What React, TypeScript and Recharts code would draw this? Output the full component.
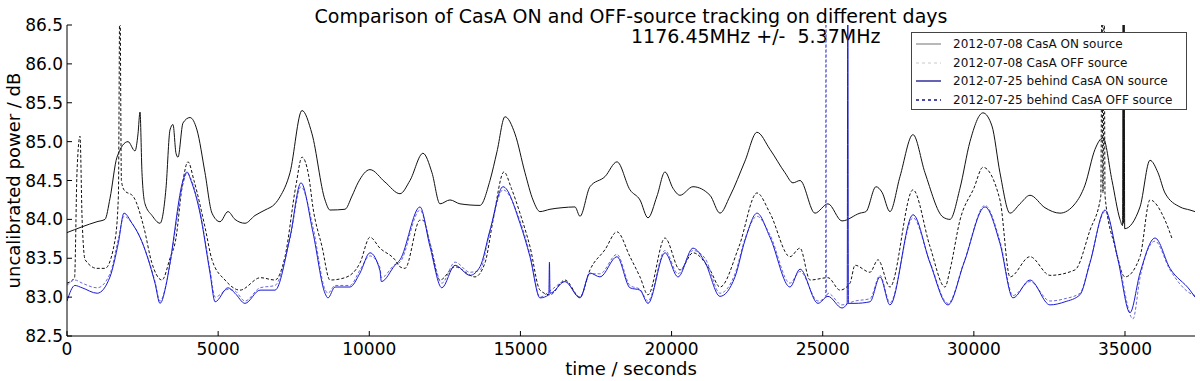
import { LineChart, Line, XAxis, YAxis, Legend } from 'recharts';

// [time in seconds, power in dB]
const onJul08: [number, number][] = [
  [0, 83.83], [992, 83.97], [1257, 84.0], [1422, 84.27], [1654, 84.8], [2018, 85.0], [2250, 84.88],
  [2349, 85.1], [2415, 85.38], [2481, 84.6], [2580, 84.2], [2812, 84.05], [3076, 83.95], [3275, 84.4],
  [3407, 85.15], [3507, 85.22], [3606, 84.85], [3672, 84.8], [3837, 85.24], [4069, 85.31], [4300, 85.15],
  [4565, 84.6], [4797, 84.08], [5061, 83.97], [5326, 84.1], [5557, 84.0], [5888, 83.95], [6219, 84.05],
  [6550, 84.12], [6880, 84.2], [7046, 84.29], [7377, 84.6], [7774, 85.4], [8105, 85.1], [8535, 84.25],
  [8700, 84.12], [9196, 84.13], [9428, 84.3], [9626, 84.47], [10023, 84.64], [10519, 84.48], [11016, 84.33],
  [11346, 84.5], [11776, 84.85], [12074, 84.6], [12339, 84.2], [12670, 84.25], [13000, 84.2], [13662, 84.18],
  [13993, 84.5], [14224, 84.87], [14489, 85.32], [14820, 85.1], [15151, 84.6], [15416, 84.25], [15647, 84.1],
  [15978, 84.13], [16375, 84.15], [16805, 84.16], [16970, 84.04], [17301, 84.42], [17797, 84.55], [18194, 84.74],
  [18624, 84.38], [18955, 84.25], [19220, 84.02], [19518, 84.3], [19782, 84.61], [20047, 84.4], [20279, 84.31],
  [20709, 84.42], [21271, 84.31], [21602, 84.08], [21933, 84.3], [22429, 84.75], [22826, 85.12], [23256, 84.9],
  [23752, 84.6], [24017, 84.47], [24249, 84.5], [24745, 84.08], [25175, 84.2], [25638, 83.98], [26233, 84.08],
  [26431, 84.1], [26762, 84.42], [26960, 84.35], [27225, 84.1], [27556, 84.55], [27986, 85.09], [28383, 84.6],
  [28978, 84.03], [29210, 84.0], [29541, 84.4], [29872, 85.0], [30302, 85.37], [30600, 85.2], [30864, 84.6],
  [31195, 84.08], [31526, 84.2], [31857, 84.31], [32353, 84.15], [32849, 84.08], [33345, 84.2], [33676, 84.44],
  [34007, 84.9], [34272, 85.05], [34570, 84.5], [34835, 84.0], [34920, 83.92], [34940, 87.0], [34955, 83.95],
  [34970, 87.0], [34990, 83.88], [35497, 84.16], [35827, 84.76], [36092, 84.6], [36323, 84.34], [36819, 84.16],
  [37150, 84.12], [37316, 84.1],
];

const offJul08: [number, number][] = [
  [0, 83.18], [250, 83.25], [330, 84.6], [430, 85.07], [500, 84.0], [600, 83.48], [992, 83.37], [1257, 83.37],
  [1587, 83.73], [1700, 84.3], [1750, 87.0], [1800, 84.5], [1885, 84.38], [2200, 84.29], [2547, 83.89],
  [2800, 83.45], [3142, 83.22], [3407, 83.5], [3606, 83.76], [3800, 84.4], [4003, 84.74], [4200, 84.5],
  [4565, 83.9], [4797, 83.48], [5227, 83.22], [5723, 83.09], [6400, 83.25], [6880, 83.22], [7211, 83.52],
  [7575, 84.44], [7774, 84.8], [8000, 84.55], [8138, 84.15], [8436, 83.65], [8700, 83.22], [9196, 83.25],
  [9693, 83.44], [10023, 83.77], [10353, 83.63], [10850, 83.48], [11016, 83.39], [11181, 83.37], [11677, 83.99],
  [11776, 83.99], [12000, 83.7], [12339, 83.22], [12835, 83.39], [13497, 83.26], [13827, 83.44], [14100, 84.0],
  [14455, 84.61], [14700, 84.4], [14985, 84.08], [15316, 83.65], [15647, 83.09], [15978, 83.03], [16474, 83.22],
  [16970, 83.0], [17301, 83.35], [17797, 83.61], [18194, 83.84], [18624, 83.52], [18955, 83.26], [19220, 83.03],
  [19782, 83.76], [20279, 83.35], [20709, 83.57], [21271, 83.35], [21602, 83.13], [22230, 83.65], [22826, 84.34],
  [23256, 84.08], [23917, 83.52], [24249, 83.63], [24580, 83.22], [25175, 83.25], [25572, 83.09], [25903, 83.18],
  [26068, 83.41], [26564, 83.32], [26829, 83.48], [27225, 83.13], [27986, 84.38], [28549, 83.65], [29045, 83.13],
  [29210, 83.35], [29541, 83.99], [30000, 84.4], [30302, 84.67], [30864, 84.25], [31195, 83.26], [31857, 83.52],
  [32518, 83.28], [33345, 83.35], [33841, 83.86], [34200, 84.3], [34240, 87.0], [34272, 84.34], [34310, 87.0],
  [34340, 84.3], [34669, 83.65], [35000, 83.26], [35497, 83.52], [35827, 84.25], [36323, 83.99], [36550, 83.76],
];

const onJul25: [number, number][] = [
  [0, 82.95], [260, 83.15], [500, 83.12], [1000, 83.05], [1422, 83.26], [1700, 83.7], [1885, 84.08],
  [2150, 83.95], [2415, 83.77], [2911, 83.18], [3076, 82.92], [3300, 83.2], [3407, 83.44], [3837, 84.5],
  [3970, 84.61], [4100, 84.5], [4400, 84.08], [4731, 83.31], [4900, 82.94], [5326, 83.12], [5557, 83.05],
  [5888, 82.92], [6385, 83.09], [6880, 83.09], [7377, 83.77], [7740, 84.47], [8138, 83.83], [8535, 83.05],
  [8634, 82.99], [8866, 83.13], [9362, 83.13], [9693, 83.31], [10023, 83.57], [10353, 83.34], [10400, 83.2],
  [10850, 83.41], [11016, 83.48], [11677, 84.16], [12008, 83.65], [12400, 83.12], [12835, 83.41], [13331, 83.28],
  [13662, 83.39], [13993, 83.86], [14423, 84.42], [14985, 83.95], [15316, 83.52], [15647, 82.99], [15940, 83.03],
  [15960, 83.45], [15980, 83.05], [16474, 83.2], [16970, 82.99], [17301, 83.31], [17632, 83.26], [18194, 83.52],
  [18624, 83.12], [18955, 83.09], [19220, 82.92], [19782, 83.57], [20213, 83.26], [20709, 83.63], [21106, 83.45],
  [21602, 83.01], [22098, 83.26], [22429, 83.73], [22826, 84.08], [23256, 83.77], [23917, 83.13], [24249, 83.36],
  [24844, 82.92], [25175, 83.01], [25638, 82.86], [25810, 82.92], [25830, 87.0], [25850, 82.92], [26068, 82.92],
  [26564, 82.94], [26895, 83.26], [27225, 82.9], [27986, 84.06], [28549, 83.44], [29144, 82.9], [29673, 83.44],
  [30368, 84.16], [30864, 83.69], [31295, 82.99], [31857, 83.22], [32518, 82.9], [33014, 82.94], [33510, 83.03],
  [33841, 83.44], [34338, 84.12], [34768, 83.48], [35165, 82.8], [35497, 83.31], [35993, 83.76], [36489, 83.37],
  [37150, 83.09], [37316, 83.0],
];

const offJul25: [number, number][] = [
  [0, 83.15], [260, 83.22], [500, 83.18], [1000, 83.12], [1422, 83.3], [1700, 83.75], [1885, 84.04],
  [2150, 83.95], [2415, 83.77], [2911, 83.2], [3076, 82.95], [3300, 83.2], [3407, 83.42], [3837, 84.45],
  [3970, 84.6], [4100, 84.52], [4400, 84.1], [4731, 83.35], [4900, 83.0], [5326, 83.1], [5557, 83.08],
  [5888, 82.95], [6385, 83.12], [6880, 83.15], [7377, 83.75], [7740, 84.42], [8138, 83.9], [8535, 83.1],
  [8634, 83.05], [8866, 83.15], [9362, 83.15], [9693, 83.35], [10023, 83.53], [10353, 83.38], [10400, 83.25],
  [10850, 83.42], [11016, 83.45], [11677, 84.12], [12008, 83.7], [12400, 83.18], [12835, 83.45], [13331, 83.32],
  [13662, 83.35], [13993, 83.85], [14423, 84.38], [14985, 83.98], [15316, 83.55], [15647, 83.0], [15978, 83.08],
  [16474, 83.2], [16970, 83.0], [17301, 83.3], [17632, 83.3], [18194, 83.55], [18624, 83.15], [18955, 83.1],
  [19220, 82.95], [19782, 83.6], [20213, 83.3], [20709, 83.6], [21106, 83.5], [21602, 83.05], [22098, 83.3],
  [22429, 83.75], [22826, 84.04], [23256, 83.8], [23917, 83.18], [24249, 83.33], [24844, 82.95], [25090, 83.0],
  [25108, 87.0], [25126, 83.0], [25175, 83.05], [25638, 82.9], [26068, 82.95], [26564, 82.98], [26895, 83.28],
  [27225, 82.93], [27986, 84.02], [28549, 83.45], [29144, 82.92], [29673, 83.45], [30368, 84.18], [30864, 83.72],
  [31295, 83.02], [31857, 83.2], [32518, 82.95], [33014, 82.98], [33510, 83.05], [33841, 83.45], [34338, 84.1],
  [34768, 83.5], [35265, 82.72], [35497, 83.25], [35993, 83.72], [36489, 83.35], [37150, 83.05], [37316, 83.02],
];

const xTicks = [0, 5000, 10000, 15000, 20000, 25000, 30000, 35000];
const yTicks = [82.5, 83.0, 83.5, 84.0, 84.5, 85.0, 85.5, 86.0, 86.5];

const FONT = 'DejaVu Sans, sans-serif';
const BLUE = '#1a1ad6';

const toRows = (pts: [number, number][]) => pts.map(([t, v]) => ({ t, v }));

const legendItems = [
  { label: '2012-07-08 CasA ON source', color: '#b8b8b8', dash: undefined, width: 2 },
  { label: '2012-07-08 CasA OFF source', color: '#c8c8c8', dash: '3 3', width: 1 },
  { label: '2012-07-25 behind CasA ON source', color: '#10108a', dash: undefined, width: 1.3 },
  { label: '2012-07-25 behind CasA OFF source', color: '#10108a', dash: '3 3', width: 1.3 },
];

function LegendBox() {
  return (
    <div style={{ background: '#fff', border: '1px solid #444', width: 276, height: 78, padding: '2px 0', boxSizing: 'border-box', fontFamily: FONT, fontSize: 12 }}>
      {legendItems.map((it) => (
        <div key={it.label} style={{ display: 'flex', alignItems: 'center', height: 18.5, whiteSpace: 'nowrap' }}>
          <svg width={37} height={10} style={{ marginLeft: 4, flexShrink: 0 }}>
            <line x1={0} x2={25} y1={5} y2={5} stroke={it.color} strokeWidth={it.width} strokeDasharray={it.dash} />
          </svg>
          <span style={{ color: '#111' }}>{it.label}</span>
        </div>
      ))}
    </div>
  );
}

const BottomTick = ({ x, y, payload }: any) => (
  <g>
    <line x1={x} x2={x} y1={y} y2={y - 5} stroke="#000" />
    <text x={x} y={y + 19} textAnchor="middle" fontSize={17} fontFamily={FONT} fill="#000">{payload.value}</text>
  </g>
);

const TopTick = ({ x, y }: any) => <line x1={x} x2={x} y1={y} y2={y + 5} stroke="#888" />;

const LeftTick = ({ x, y, payload }: any) => (
  <g>
    <line x1={x} x2={x + 5} y1={y} y2={y} stroke="#000" />
    <text x={x - 4} y={y} dy="0.36em" textAnchor="end" fontSize={17} fontFamily={FONT} fill="#000">{Number(payload.value).toFixed(1)}</text>
  </g>
);

const RightTick = ({ x, y }: any) => <line x1={x} x2={x - 5} y1={y} y2={y} stroke="#888" />;

export default function App() {
  return (
    <div style={{ position: 'absolute', left: 0, top: 0, width: 1200, height: 381, background: '#fff', fontFamily: FONT }}>
      <div style={{ position: 'absolute', left: 0, width: 1262, top: 5, textAlign: 'center', fontSize: 19, color: '#000', whiteSpace: 'nowrap' }}>
        Comparison of CasA ON and OFF-source tracking on different days
      </div>
      <div style={{ position: 'absolute', left: 631, top: 25, fontSize: 19, color: '#000', whiteSpace: 'pre' }}>
        {'1176.45MHz +/-  5.37MHz'}
      </div>
      <LineChart width={1200} height={381} margin={{ top: 25, right: 5, bottom: 0, left: 0 }}>
        <XAxis
          xAxisId="bottom"
          dataKey="t"
          type="number"
          domain={[0, 37316]}
          ticks={xTicks}
          interval={0}
          height={45}
          tickSize={0}
          tickMargin={0}
          tickLine={false}
          tick={<BottomTick />}
          axisLine={{ stroke: '#000' }}
          allowDataOverflow
          label={{ value: 'time / seconds', position: 'insideBottom', offset: 6, fontSize: 18, fontFamily: FONT, fill: '#000' }}
        />
        <XAxis
          xAxisId="top"
          orientation="top"
          dataKey="t"
          type="number"
          domain={[0, 37316]}
          ticks={xTicks}
          interval={0}
          height={0}
          tickSize={0}
          tickMargin={0}
          tickLine={false}
          tick={<TopTick />}
          axisLine={{ stroke: '#999' }}
          allowDataOverflow
        />
        <YAxis
          yAxisId="left"
          type="number"
          domain={[82.5, 86.5]}
          ticks={yTicks}
          interval={0}
          width={67}
          tickSize={0}
          tickMargin={0}
          tickLine={false}
          tick={<LeftTick />}
          axisLine={{ stroke: '#000' }}
          allowDataOverflow
          label={{ value: 'uncalibrated power / dB', angle: -90, position: 'insideLeft', offset: 0, dx: 14, fontSize: 18, fontFamily: FONT, fill: '#000', style: { textAnchor: 'middle' } }}
        />
        <YAxis
          yAxisId="right"
          orientation="right"
          type="number"
          domain={[82.5, 86.5]}
          ticks={yTicks}
          interval={0}
          width={0}
          tickSize={0}
          tickMargin={0}
          tickLine={false}
          tick={<RightTick />}
          axisLine={{ stroke: '#999' }}
          allowDataOverflow
        />
        <Legend
          layout="vertical"
          align="center"
          verticalAlign="middle"
          content={() => <LegendBox />}
          wrapperStyle={{ position: 'absolute', left: 911, top: 32, width: 276, height: 78 }}
        />
        <Line xAxisId="bottom" yAxisId="left" data={toRows(onJul08)} dataKey="v" name="2012-07-08 CasA ON source" type="monotone" stroke="#111" strokeWidth={1} dot={false} isAnimationActive={false} />
        <Line xAxisId="bottom" yAxisId="left" data={toRows(offJul08)} dataKey="v" name="2012-07-08 CasA OFF source" type="monotone" stroke="#111" strokeWidth={1} strokeDasharray="3 2" dot={false} isAnimationActive={false} />
        <Line xAxisId="bottom" yAxisId="left" data={toRows(offJul25)} dataKey="v" name="2012-07-25 behind CasA OFF source" type="monotone" stroke="#6a6ad8" strokeWidth={1} strokeDasharray="3 2" dot={false} isAnimationActive={false} />
        <Line xAxisId="bottom" yAxisId="left" data={toRows(onJul25)} dataKey="v" name="2012-07-25 behind CasA ON source" type="monotone" stroke={BLUE} strokeWidth={1} dot={false} isAnimationActive={false} />
      </LineChart>
    </div>
  );
}
